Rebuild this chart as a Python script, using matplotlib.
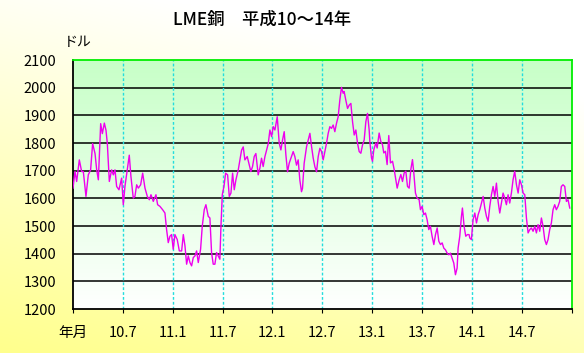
import numpy as np
import matplotlib
matplotlib.use("Agg")
import matplotlib.pyplot as plt

plt.rcParams['font.family'] = ['Noto Sans CJK JP', 'DejaVu Sans']

# LME copper, months since Jan 1998 (H10.1) and price in USD
months = [
    0.0, 0.24, 0.44, 0.76, 1.04, 1.24, 1.56, 1.84, 2.12, 2.36, 2.65, 2.85, 3.05, 3.33, 3.53,
    3.77, 3.97, 4.13, 4.37, 4.65, 4.85, 5.05, 5.25, 5.53, 5.85, 6.05, 6.25, 6.53, 6.77, 6.97,
    7.25, 7.45, 7.66, 7.86, 8.14, 8.38, 8.66, 8.94, 9.18, 9.38, 9.66, 9.98, 10.18, 10.46,
    10.78, 11.06, 11.26, 11.46, 11.66, 11.86,
    12.06, 12.26, 12.54, 12.79, 13.07, 13.27, 13.47, 13.67, 13.87, 14.07, 14.27, 14.47,
    14.67, 14.87, 15.07, 15.35, 15.55, 15.79, 15.99, 16.27, 16.47, 16.67, 16.87, 17.07,
    17.27, 17.47, 17.67, 17.80, 17.96, 18.16, 18.36, 18.60, 18.80, 19.0, 19.20, 19.40,
    19.60, 19.88, 20.08, 20.28, 20.48, 20.68, 20.96, 21.20, 21.40, 21.60, 21.80, 22.00,
    22.28, 22.48, 22.68, 22.88, 23.09, 23.29, 23.49,
    23.69, 23.89, 24.09, 24.29, 24.57, 24.81, 25.01, 25.21, 25.41, 25.61, 25.81, 26.01,
    26.29, 26.49, 26.69, 26.89, 27.09, 27.29, 27.49, 27.61, 27.81, 28.10, 28.30, 28.50,
    28.70, 28.90, 29.10, 29.30, 29.50, 29.70, 29.90, 30.10, 30.30, 30.50, 30.70, 30.90,
    31.10, 31.30, 31.50, 31.70, 31.90, 32.10, 32.30, 32.50, 32.62, 32.82, 33.03, 33.23,
    33.43, 33.63, 33.83, 34.03, 34.23, 34.43, 34.63, 34.83, 35.03, 35.23, 35.43, 35.63,
    35.71, 35.91, 36.03, 36.19, 36.43, 36.59, 36.83, 37.03, 37.23, 37.39, 37.59, 37.79,
    37.99, 38.19, 38.44, 38.64, 38.84, 39.00, 39.24, 39.44, 39.64, 39.84, 40.04, 40.24,
    40.44, 40.64, 40.84, 41.00, 41.20, 41.40, 41.64, 41.80, 42.00, 42.20, 42.40, 42.60,
    42.80, 43.00, 43.20, 43.41, 43.61, 43.81, 44.01, 44.21, 44.41, 44.61, 44.81, 45.01,
    45.21, 45.41, 45.61, 45.81, 46.01, 46.21, 46.33, 46.53, 46.73, 46.85, 47.05, 47.25,
    47.45, 47.65,
    47.73, 47.93, 48.13, 48.34, 48.54, 48.74, 48.94, 49.14, 49.34, 49.54, 49.74, 49.94,
    50.14, 50.34, 50.54, 50.74, 50.94, 51.14, 51.34, 51.54, 51.74, 51.94, 52.14, 52.34,
    52.54, 52.74, 52.94, 53.14, 53.35, 53.55, 53.75, 53.95, 54.15, 54.35, 54.55, 54.75,
    54.95, 55.15, 55.35, 55.55, 55.75, 55.95, 56.15, 56.35, 56.55, 56.75, 56.95, 57.15,
    57.35, 57.55, 57.75, 57.95, 58.15, 58.35, 58.55, 58.75, 58.95, 59.16, 59.36, 59.56,
    59.76,
]
prices = [
    1637, 1697, 1661, 1739, 1697, 1697, 1607, 1685, 1703, 1798, 1762, 1703, 1667, 1870, 1834,
    1872, 1846, 1798, 1661, 1703, 1685, 1703, 1643, 1631, 1673, 1577, 1643, 1703, 1756, 1679,
    1601, 1607, 1649, 1637, 1649, 1691, 1637, 1607, 1595, 1613, 1589, 1613, 1577, 1571,
    1559, 1547, 1487, 1440, 1463, 1469,
    1416, 1469, 1451, 1410, 1410, 1469, 1428, 1362, 1392, 1368, 1356, 1386,
    1392, 1410, 1368, 1416, 1499, 1559, 1577, 1535, 1529, 1404, 1362, 1362,
    1404, 1392, 1380, 1499, 1613, 1643, 1691, 1685, 1607, 1619, 1691, 1631,
    1667, 1703, 1739, 1774, 1786, 1739, 1751, 1721, 1697, 1715, 1751, 1762,
    1685, 1709, 1745, 1715, 1751, 1774, 1798,
    1847, 1823, 1859, 1847, 1895, 1799, 1775, 1811, 1841, 1757, 1696, 1727,
    1751, 1769, 1751, 1720, 1739, 1666, 1624, 1636, 1727, 1787, 1811, 1835,
    1787, 1745, 1714, 1696, 1751, 1781, 1769, 1739, 1769, 1799, 1835, 1859,
    1853, 1865, 1841, 1871, 1895, 1955, 2001, 1980, 1986, 1955, 1925, 1937,
    1943, 1877, 1829, 1847, 1799, 1769, 1763, 1793, 1811, 1877, 1907, 1847,
    1806, 1746, 1734, 1776, 1800, 1782, 1836, 1806, 1794, 1764, 1770, 1722,
    1827, 1728, 1734, 1704, 1667, 1637, 1667, 1686, 1661, 1692, 1698, 1643,
    1637, 1704, 1740, 1692, 1619, 1601, 1595, 1559, 1571, 1541, 1547, 1523,
    1487, 1499, 1463, 1433, 1469, 1493, 1445, 1433, 1439, 1420, 1414, 1402,
    1396, 1402, 1384, 1366, 1324, 1348, 1420, 1463, 1535, 1565, 1499, 1463,
    1469, 1469,
    1457, 1451, 1523, 1547, 1511, 1541, 1559, 1583, 1607, 1565, 1535, 1517,
    1571, 1613, 1643, 1607, 1655, 1589, 1547, 1583, 1619, 1601, 1577, 1613,
    1583, 1619, 1667, 1698, 1649, 1619, 1667, 1649, 1619, 1613, 1529, 1475,
    1487, 1493, 1481, 1499, 1475, 1505, 1481, 1529, 1499, 1451, 1433, 1451,
    1487, 1511, 1559, 1577, 1559, 1571, 1589, 1643, 1649, 1643, 1589, 1595,
    1565,
]
tick_months = [0, 6, 12, 18, 24, 30, 36, 42, 48, 54, 60]
tick_labels = ["年月", "10.7", "11.1", "11.7", "12.1", "12.7", "13.1", "13.7", "14.1", "14.7", ""]
y_ticks = list(range(1200, 2101, 100))

fig = plt.figure(figsize=(5.84, 3.53), dpi=100)

# figure background: white at top, yellow towards bottom-left
bg = fig.add_axes([0, 0, 1, 1], zorder=-10)
gx, gy = np.meshgrid(np.linspace(0, 1, 200), np.linspace(0, 1, 200))
v = np.clip(0.9 * gy + 0.35 * (1 - gx) - 0.25, 0, 1)
img = np.dstack([np.ones_like(v), np.ones_like(v), 1 - 0.45 * v])
bg.imshow(img, extent=[0, 1, 0, 1], origin="upper", aspect="auto")
bg.axis("off")

ax = fig.add_axes([0.125, 0.1246, 0.854, 0.7054])
ax.set_facecolor("none")

# plot area gradient: light green at top to white at bottom
t = np.linspace(0, 1, 200)[:, None]
green = np.dstack([1 - 0.22 * t, np.ones_like(t), 1 - 0.22 * t])
ax.imshow(green, extent=[0, 60, 1200, 2100], origin="lower", aspect="auto", zorder=0)

for yv in y_ticks[1:-1]:
    ax.axhline(yv, color="black", lw=1.1, zorder=1)
for xm in tick_months[1:-1]:
    ax.axvline(xm, color="#22DDDD", lw=1.0, ls=(0, (2, 1.5)), zorder=1)

ax.plot(months, prices, color="#EE00EE", lw=1.0, zorder=3)

ax.set_xlim(0, 60)
ax.set_ylim(1200, 2100)
ax.set_yticks(y_ticks)
ax.set_yticklabels([str(y) for y in y_ticks], fontsize=10.5)
ax.set_xticks(tick_months)
ax.set_xticklabels(tick_labels, fontsize=10.5)
ax.tick_params(axis="y", length=0, pad=12)
ax.tick_params(axis="x", length=3, pad=9, direction="out")

for s in ["left", "bottom"]:
    ax.spines[s].set_color("black")
    ax.spines[s].set_linewidth(1.3)
for s in ["top", "right"]:
    ax.spines[s].set_color("#00EE00")
    ax.spines[s].set_linewidth(1.3)

fig.text(0.449, 0.943, "LME銅　平成10～14年", fontsize=12.5, fontweight="medium",
         ha="center", va="center")
fig.text(0.11, 0.88, "ドル", fontsize=10, ha="left", va="center")

fig.savefig("out.png", dpi=100)
